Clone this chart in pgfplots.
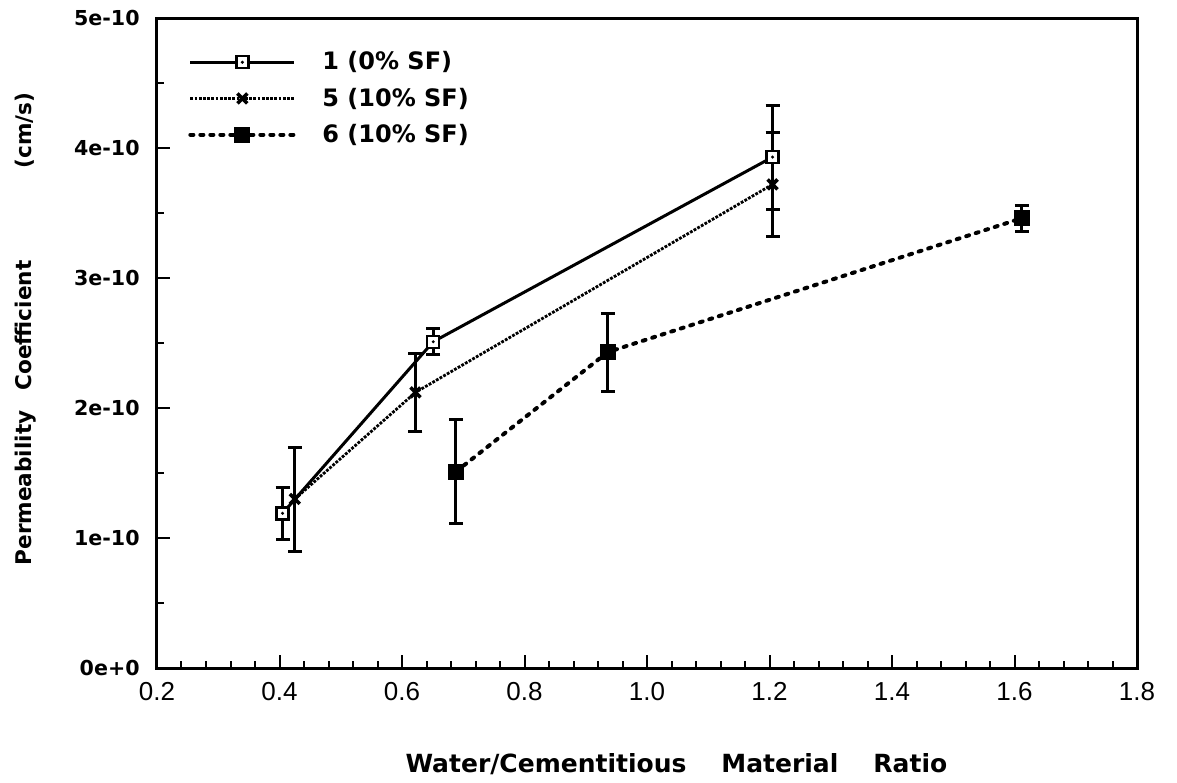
\documentclass[border=0pt]{standalone}
\usepackage{pgfplots}
\pgfplotsset{compat=1.18}
\usepackage{fontspec}
\setmainfont{DejaVu Sans}
\newfontfamily\tickfont{Liberation Sans}
\pgfdeclareplotmark{sqdot}{%
  \pgfpathrectangle{\pgfqpoint{-\pgfplotmarksize}{-\pgfplotmarksize}}{\pgfqpoint{2\pgfplotmarksize}{2\pgfplotmarksize}}%
  \pgfusepathqfillstroke
  \begin{pgfscope}%
  \pgfsetfillcolor{black}%
  \pgfpathcircle{\pgfpointorigin}{0.28\pgfplotmarksize}%
  \pgfusepathqfill
  \end{pgfscope}}
\pgfplotstableread{
x y e
0.405 1.19e-10 0.20e-10
0.651 2.51e-10 0.10e-10
1.205 3.93e-10 0.40e-10
}\sone
\pgfplotstableread{
x y e
0.425 1.30e-10 0.40e-10
0.622 2.12e-10 0.30e-10
1.205 3.72e-10 0.40e-10
}\stwo
\pgfplotstableread{
x y e
0.688 1.51e-10 0.40e-10
0.936 2.43e-10 0.30e-10
1.612 3.46e-10 0.10e-10
}\sthree
\begin{document}
\begin{tikzpicture}
\begin{axis}[
  scale only axis, width=490pt, height=325pt,
  xmin=0.2, xmax=1.8, ymin=0, ymax=5e-10,
  axis line style={line width=1.5pt},
  xtick={0.2,0.4,0.6,0.8,1.0,1.2,1.4,1.6,1.8},
  xticklabels={0.2,0.4,0.6,0.8,1.0,1.2,1.4,1.6,1.8},
  minor x tick num=4,
  ytick={0,1e-10,2e-10,3e-10,4e-10,5e-10},
  yticklabels={0e+0,1e-10,2e-10,3e-10,4e-10,5e-10},
  minor y tick num=1,
  scaled y ticks=false,
  tick align=inside, xtick pos=bottom, ytick pos=left,
  major tick length=6.5pt, minor tick length=3.5pt,
  every tick/.style={line width=1pt, black},
  xticklabel style={font=\tickfont\fontsize{13}{15}\selectfont, inner sep=0pt, anchor=north, yshift=-7pt},
  yticklabel style={font=\bfseries\fontsize{10.3}{12}\selectfont, inner sep=0pt, anchor=east, xshift=-8.5pt},
  xlabel={Water/Cementitious\hspace{1.4em}Material\hspace{1.4em}Ratio},
  xlabel style={font=\bfseries\fontsize{12.5}{14}\selectfont, inner sep=0pt, anchor=north, at={(axis description cs:0.53,-0.131)}},
  ylabel={Permeability\hspace{10pt}Coefficient\hspace{46pt}(cm/s)},
  ylabel style={font=\bfseries\fontsize{10.8}{12}\selectfont, inner sep=0pt, anchor=center, at={(axis description cs:-0.1337,0.5215)}},
  legend cell align=left,
  legend image code/.code={\draw[mark repeat=2,mark phase=2] plot coordinates {(0pt,0pt) (26pt,0pt) (52pt,0pt)};\path (63pt,0pt);},
  legend style={draw=none, fill=none, inner sep=0pt, at={(axis description cs:0.0316,0.955)}, anchor=north west,
    font=\bfseries\fontsize{12}{14}\selectfont, row sep=3.5pt},
]
\addplot[black, line width=1.5pt, mark=sqdot, mark size=3pt, mark options={fill=white, line width=1.2pt, solid},
  error bars/.cd, y dir=both, y explicit, error bar style={line width=1.5pt, solid}, error mark options={rotate=90, mark size=3.5pt, line width=1.5pt, solid}]
  table[x=x, y=y, y error=e] {\sone};
\addlegendentry{1 (0\% SF)}
\addplot[black, line width=1.4pt, dash pattern=on 1.4pt off 0.7pt, mark=x, mark size=3.5pt, mark options={line width=1.8pt, solid},
  error bars/.cd, y dir=both, y explicit, error bar style={line width=1.5pt, solid}, error mark options={rotate=90, mark size=3.5pt, line width=1.5pt, solid}]
  table[x=x, y=y, y error=e] {\stwo};
\addlegendentry{5 (10\% SF)}
\addplot[black, line width=2pt, dash pattern=on 1.5pt off 3.5pt, line cap=round, mark=square*, mark size=3pt, mark options={solid},
  error bars/.cd, y dir=both, y explicit, error bar style={line width=1.5pt, solid, line cap=butt}, error mark options={rotate=90, mark size=3.5pt, line width=1.5pt, solid}]
  table[x=x, y=y, y error=e] {\sthree};
\addlegendentry{6 (10\% SF)}
\end{axis}
\pgfresetboundingbox
\path[use as bounding box] ([shift={(-78.5pt,-57pt)}]current axis.south west) rectangle ([shift={(20pt,9pt)}]current axis.north east);
\end{tikzpicture}
\end{document}
